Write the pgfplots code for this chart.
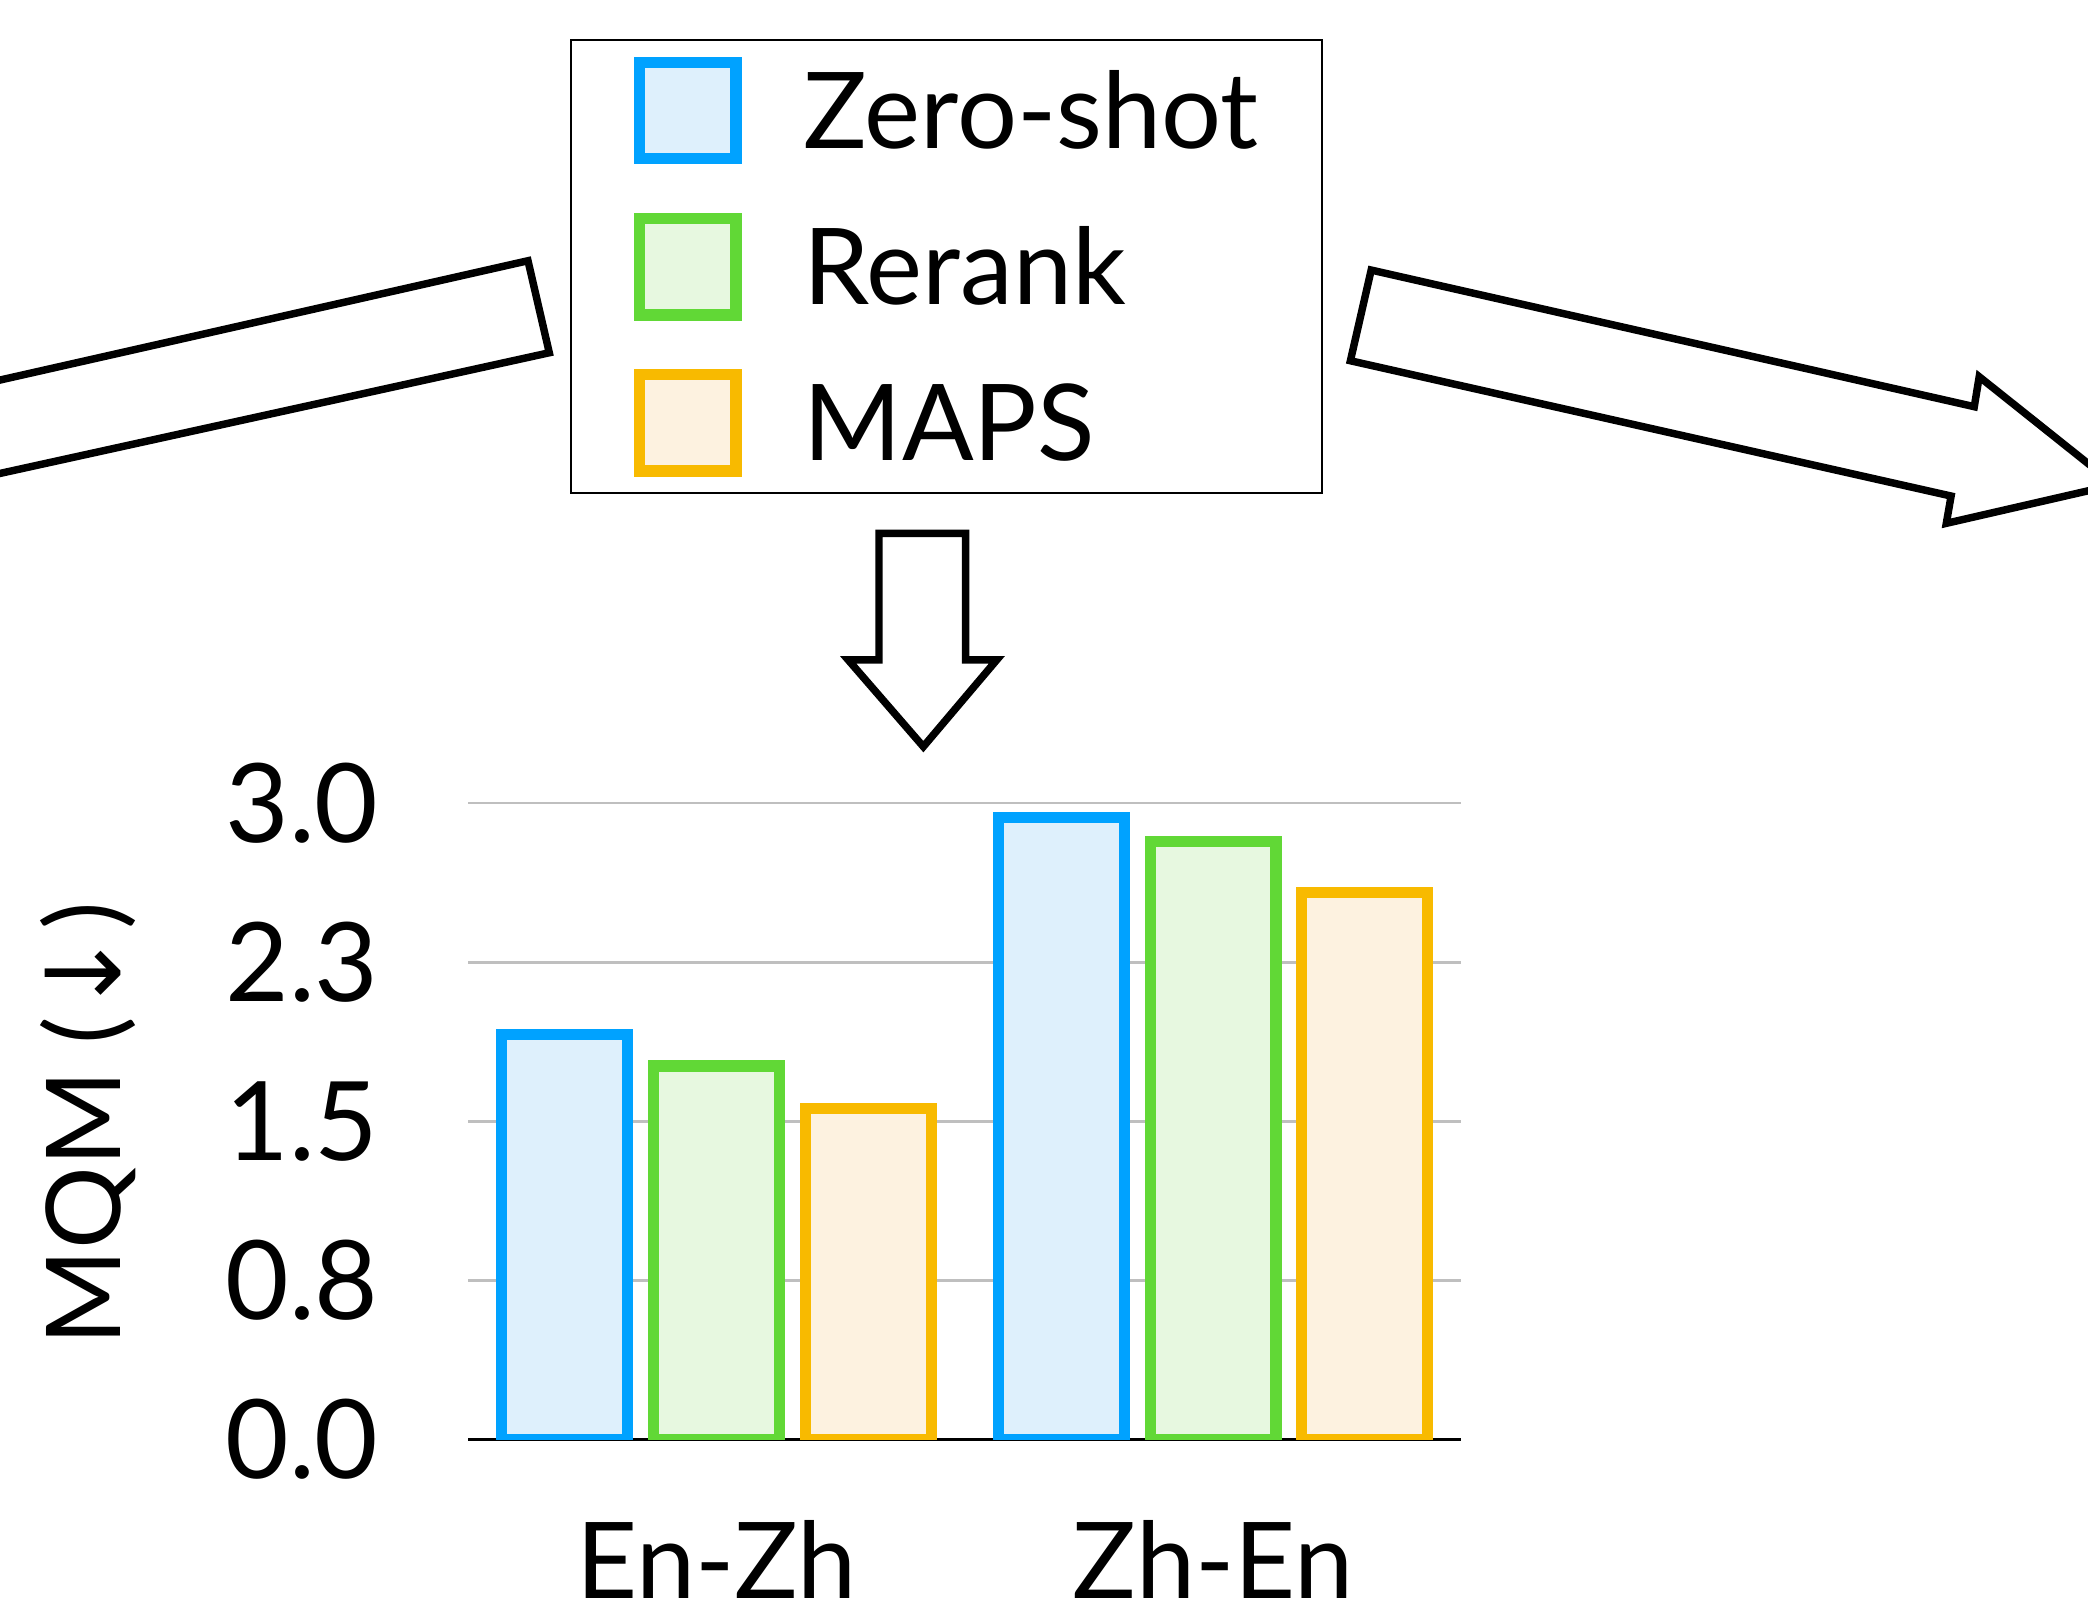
\documentclass[border=0pt]{standalone}
\usepackage{pgfplots}
\pgfplotsset{compat=1.18}
\usepackage{fontspec}
\setmainfont{Lato}
\newfontfamily\dejavu{DejaVu Sans}
\definecolor{zsline}{HTML}{00A2FF}
\definecolor{zsfill}{HTML}{DEF0FC}
\definecolor{rrline}{HTML}{61D836}
\definecolor{rrfill}{HTML}{E7F8E0}
\definecolor{mpline}{HTML}{F8BA00}
\definecolor{mpfill}{HTML}{FDF2E0}
\definecolor{gridgray}{HTML}{BFBFBF}

\begin{document}
\begin{tikzpicture}
\useasboundingbox (0,0) rectangle (392pt,303.75pt);
\clip (0,0) rectangle (392pt,303.75pt);
\begin{axis}[
  at={(87.875pt,33.5pt)}, anchor=south west,
  scale only axis, width=186.5pt, height=119.5pt,
  xmin=-0.5, xmax=1.5, ymin=0, ymax=3,
  ybar, bar width=0.2536,
  axis x line*=bottom, axis y line*=left,
  x axis line style={-, black, line width=0.55pt},
  y axis line style={draw=none},
  major tick length=0pt,
  xtick={0,1}, xticklabels={En-Zh,Zh-En},
  ytick={0,0.75,1.5,2.25,3}, yticklabels={0.0,0.8,1.5,2.3,3.0},
  ymajorgrids, grid style={gridgray, line width=0.55pt},
  tick label style={font=\fontsize{19.9pt}{24pt}\selectfont},
  yticklabel style={font=\fontsize{20.6pt}{24pt}\selectfont, anchor=east, inner sep=0pt, xshift=-16.6pt},
  xticklabel style={anchor=base, inner sep=0pt, yshift=-29.8pt},
  ylabel={MQM ({\dejavu ↓})},
  every axis y label/.style={at={(axis description cs:-0.3503,0.496)}, rotate=90, anchor=base, font=\fontsize{19.4pt}{24pt}\selectfont},
  legend image code/.code={\draw[#1, line width=2.15pt] (0pt,-9.05pt) rectangle (18.1pt,9.05pt);},
  legend style={at={(axis description cs:0.1026,2.2002)}, anchor=north west, draw=black, line width=0.4pt, inner xsep=11.8pt, inner ysep=3.1pt, row sep=9.05pt, column sep=11.6pt, font=\fontsize{19.9pt}{24pt}\selectfont, nodes={inner sep=0pt, text height=14.25pt, text depth=0pt}},
  legend cell align=left,
]
\addplot[draw=zsline, fill=zsfill, line width=2.1pt, bar shift=-0.3055] coordinates {(0,1.91) (1,2.93)};
\addlegendentry{Zero-shot}
\addplot[draw=rrline, fill=rrfill, line width=2.1pt, bar shift=0] coordinates {(0,1.76) (1,2.82)};
\addlegendentry{Rerank}
\addplot[draw=mpline, fill=mpfill, line width=2.1pt, bar shift=0.3055] coordinates {(0,1.56) (1,2.58)};
\addlegendentry{MAPS}
\end{axis}
\begin{scope}[shift={(0pt,303.75pt)}, x=0.25pt, y=-0.25pt, line width=1.4pt, line join=miter]
\draw (-100,308) -- (396.5,195.8) -- (412.5,264.9) -- (-100,377.5) -- cycle;
\draw (660.1,400.5) -- (725.2,400.5) -- (725.2,495.6) -- (748.5,495.6) -- (693.4,560.7) -- (637,495.6) -- (660.1,495.6) -- cycle;
\draw (1029.7,202.8) -- (1482.6,305.4) -- (1486.3,282.9) -- (1588,364) -- (1461.6,393) -- (1465.2,372.5) -- (1014.1,270.9) -- cycle;
\end{scope}
\end{tikzpicture}
\end{document}
